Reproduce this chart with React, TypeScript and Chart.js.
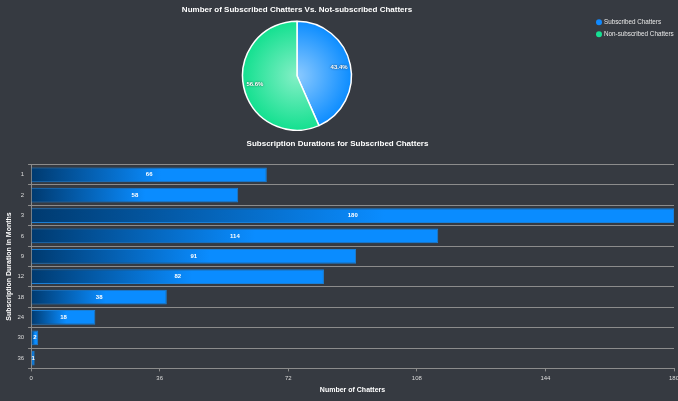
import React, { useEffect, useRef } from 'react';
import { Chart, registerables } from 'chart.js';

Chart.register(...registerables);

const BG = '#363a41';
const FONT = "'Liberation Sans', Arial, Helvetica, sans-serif";
const GRID = '#8c8c8c';
const TICK = '#dcdcdc';

// ---- data ----
const pieLabels = ['Subscribed Chatters', 'Non-subscribed Chatters'];
const pieValues = [650, 848];
const pieEdge = ['#0b8cff', '#12e08f'];
const pieCenter = ['#8ccaff', '#84efc6'];
const legendColors = ['#1089ff', '#16e093'];

const durationLabels = ['1', '2', '3', '6', '9', '12', '18', '24', '30', '36'];
const durationCounts = [66, 58, 180, 114, 91, 82, 38, 18, 2, 1];
const xMin = 0;
const xMax = 180;
const xStep = 36;

const pieTitle = 'Number of Subscribed Chatters Vs. Not-subscribed Chatters';
const barTitle = 'Subscription Durations for Subscribed Chatters';
const yTitle = 'Subscription Duration in Months';
const xTitle = 'Number of Chatters';

const W = 690;
const PIE_H = 131;
const BAR_H = 270;

const pieLabelPlugin = {
  id: 'pieLabelPlugin',
  afterDatasetsDraw(chart: any) {
    const meta = chart.getDatasetMeta(0);
    const total = pieValues.reduce((a, b) => a + b, 0);
    const c = chart.ctx;
    c.save();
    c.font = `bold 6px ${FONT}`;
    c.fillStyle = '#ffffff';
    c.textAlign = 'center';
    c.textBaseline = 'middle';
    c.shadowColor = 'rgba(0,0,0,0.7)';
    c.shadowBlur = 2;
    meta.data.forEach((arc: any, i: number) => {
      const p = arc.getProps(['x', 'y', 'startAngle', 'endAngle', 'outerRadius'], true);
      const mid = (p.startAngle + p.endAngle) / 2;
      const r = p.outerRadius * 0.79;
      c.fillText(((pieValues[i] / total) * 100).toFixed(1) + '%', p.x + Math.cos(mid) * r, p.y + Math.sin(mid) * r);
    });
    c.restore();
  },
};

const customLegendPlugin = {
  id: 'customLegendPlugin',
  afterDraw(chart: any) {
    const c = chart.ctx;
    c.save();
    c.font = `6.3px ${FONT}`;
    c.textAlign = 'left';
    c.textBaseline = 'middle';
    pieLabels.forEach((label, i) => {
      const y = 22.3 + i * 12;
      c.beginPath();
      c.fillStyle = legendColors[i];
      c.arc(599, y, 3, 0, Math.PI * 2);
      c.fill();
      c.fillStyle = '#e8e8e8';
      c.fillText(label, 604, y);
    });
    c.restore();
  },
};

const barLabelPlugin = {
  id: 'barLabelPlugin',
  afterDatasetsDraw(chart: any) {
    const meta = chart.getDatasetMeta(0);
    const c = chart.ctx;
    c.save();
    c.font = `bold 6px ${FONT}`;
    c.fillStyle = '#ffffff';
    c.textAlign = 'center';
    c.textBaseline = 'middle';
    meta.data.forEach((bar: any, i: number) => {
      const p = bar.getProps(['x', 'y', 'base'], true);
      c.fillText(String(durationCounts[i]), (p.x + p.base) / 2, p.y);
    });
    c.restore();
  },
};

export default function App() {
  const pieRef = useRef<HTMLCanvasElement>(null);
  const barRef = useRef<HTMLCanvasElement>(null);

  useEffect(() => {
    document.body.style.margin = '0';
    document.body.style.background = BG;
    Chart.defaults.font.family = FONT;

    const pie = new Chart(pieRef.current as HTMLCanvasElement, {
      type: 'pie',
      data: {
        labels: pieLabels,
        datasets: [
          {
            data: pieValues,
            backgroundColor: (ctx: any) => {
              const chart = ctx.chart;
              const area = chart.chartArea;
              const i = ctx.dataIndex;
              if (!area) return pieEdge[i];
              const cx = (area.left + area.right) / 2;
              const cy = (area.top + area.bottom) / 2;
              const r = Math.min(area.width, area.height) / 2;
              const g = chart.ctx.createRadialGradient(cx, cy, 0, cx, cy, r);
              g.addColorStop(0, pieCenter[i]);
              g.addColorStop(1, pieEdge[i]);
              return g;
            },
            borderColor: '#ffffff',
            borderWidth: 1.5,
          },
        ],
      },
      options: {
        responsive: false,
        animation: false,
        layout: { padding: { right: 96 } },
        plugins: {
          legend: { display: false },
          tooltip: { enabled: false },
          title: {
            display: true,
            text: pieTitle,
            color: '#ffffff',
            font: { size: 8, weight: 'bold', family: FONT },
            padding: { top: 5, bottom: 6 },
          },
        },
      },
      plugins: [pieLabelPlugin, customLegendPlugin],
    } as any);

    const bar = new Chart(barRef.current as HTMLCanvasElement, {
      type: 'bar',
      data: {
        labels: durationLabels,
        datasets: [
          {
            data: durationCounts,
            backgroundColor: (ctx: any) => {
              const chart = ctx.chart;
              const xs = chart.scales && chart.scales.x;
              if (!xs || !chart.chartArea || ctx.dataIndex === undefined) return '#0a8cff';
              const v = durationCounts[ctx.dataIndex];
              const x0 = xs.getPixelForValue(0);
              const x1 = xs.getPixelForValue(v);
              const g = chart.ctx.createLinearGradient(x0, 0, Math.max(x1, x0 + 1), 0);
              g.addColorStop(0, '#003a6f');
              g.addColorStop(0.55, '#0a8cff');
              g.addColorStop(1, '#0a8cff');
              return g;
            },
            borderColor: '#1a7fd6',
            borderWidth: 1,
          },
        ],
      },
      options: {
        indexAxis: 'y',
        responsive: false,
        animation: false,
        layout: { padding: { left: 1, right: 16, bottom: 3 } },
        plugins: {
          legend: { display: false },
          tooltip: { enabled: false },
          title: {
            display: true,
            text: barTitle,
            color: '#ffffff',
            font: { size: 8, weight: 'bold', family: FONT },
            padding: { top: 8, bottom: 16 },
          },
        },
        scales: {
          x: {
            type: 'linear',
            min: xMin,
            max: xMax,
            ticks: { stepSize: xStep, color: TICK, font: { size: 6, family: FONT }, padding: 3 },
            grid: { drawOnChartArea: false, drawTicks: true, tickLength: 3, color: GRID },
            border: { display: true, color: GRID },
            title: {
              display: true,
              text: xTitle,
              color: '#ffffff',
              font: { size: 7, weight: 'bold', family: FONT },
              padding: { top: 1, bottom: 4 },
            },
          },
          y: {
            type: 'category',
            ticks: { color: TICK, font: { size: 6, family: FONT }, padding: 4 },
            grid: { color: GRID, tickLength: 3, offset: true },
            border: { display: true, color: GRID },
            title: {
              display: true,
              text: yTitle,
              color: '#ffffff',
              font: { size: 7, weight: 'bold', family: FONT },
              padding: { top: 4, bottom: 0 },
            },
          },
        },
      },
      plugins: [barLabelPlugin],
    } as any);

    return () => {
      pie.destroy();
      bar.destroy();
    };
  }, []);

  return (
    <div
      style={{
        position: 'fixed',
        left: 0,
        top: 0,
        width: 678,
        height: 401,
        overflow: 'hidden',
        background: BG,
      }}
    >
      <canvas ref={pieRef} width={W} height={PIE_H} style={{ position: 'absolute', left: 0, top: 0 }} />
      <canvas ref={barRef} width={W} height={BAR_H} style={{ position: 'absolute', left: 0, top: PIE_H }} />
    </div>
  );
}
